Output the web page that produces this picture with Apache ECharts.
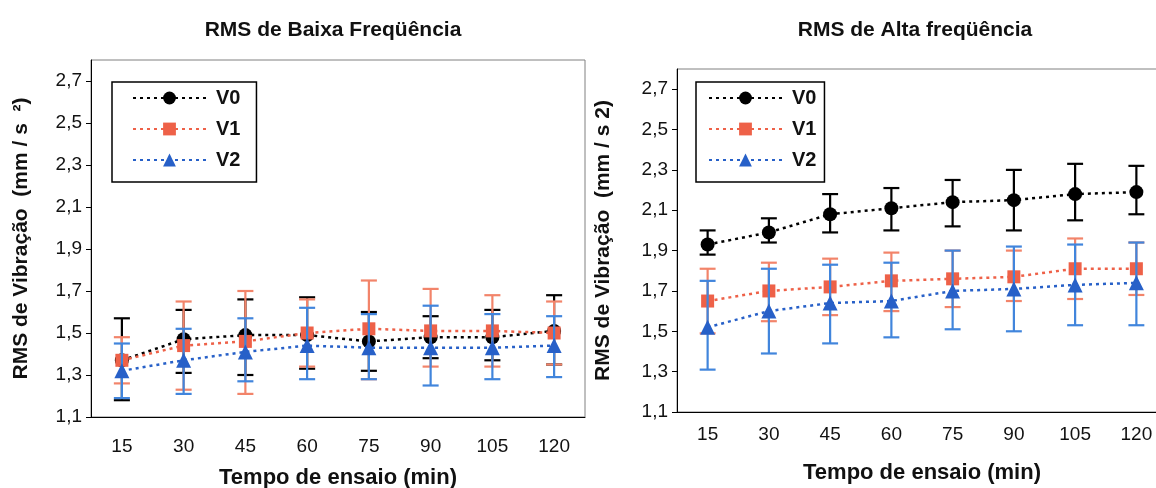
<!DOCTYPE html>
<html lang="pt">

<head>
    <meta charset="utf-8">
    <title>RMS de Vibração</title>
    <script src="https://cdn.jsdelivr.net/npm/echarts@6/dist/echarts.min.js"></script>
    <style>
        html,
        body,
        #chart {
            width: 100%;
            height: 100%;
            margin: 0;
            padding: 0;
            overflow: hidden;
            background-color: #ffffff;
        }
    </style>
</head>

<body>
    <div id="chart" style="width: 1156px;height:488px;"></div>
    <script>
        // tempo de ensaio (min)
        var categories = ['15', '30', '45', '60', '75', '90', '105', '120'];
        var yTicks = [1.1, 1.3, 1.5, 1.7, 1.9, 2.1, 2.3, 2.5, 2.7];

        // RMS de Baixa Freqüência: média, limite inferior, limite superior
        var baixaV0 = [1.37, 1.47, 1.49, 1.49, 1.46, 1.48, 1.48, 1.51];
        var baixaV0Min = [1.18, 1.31, 1.30, 1.33, 1.32, 1.38, 1.37, 1.35];
        var baixaV0Max = [1.57, 1.61, 1.66, 1.67, 1.60, 1.58, 1.61, 1.68];
        var baixaV1 = [1.37, 1.44, 1.46, 1.50, 1.52, 1.51, 1.51, 1.50];
        var baixaV1Min = [1.26, 1.23, 1.21, 1.34, 1.28, 1.34, 1.34, 1.35];
        var baixaV1Max = [1.48, 1.65, 1.70, 1.66, 1.75, 1.71, 1.68, 1.65];
        var baixaV2 = [1.32, 1.37, 1.41, 1.44, 1.43, 1.43, 1.43, 1.44];
        var baixaV2Min = [1.19, 1.21, 1.27, 1.28, 1.28, 1.25, 1.28, 1.29];
        var baixaV2Max = [1.45, 1.52, 1.57, 1.62, 1.59, 1.63, 1.59, 1.58];

        // RMS de Alta freqüência
        var altaV0 = [1.93, 1.99, 2.08, 2.11, 2.14, 2.15, 2.18, 2.19];
        var altaV0Min = [1.88, 1.94, 1.99, 2.00, 2.02, 2.00, 2.05, 2.08];
        var altaV0Max = [2.00, 2.06, 2.18, 2.21, 2.25, 2.30, 2.33, 2.32];
        var altaV1 = [1.65, 1.70, 1.72, 1.75, 1.76, 1.77, 1.81, 1.81];
        var altaV1Min = [1.49, 1.55, 1.58, 1.60, 1.62, 1.65, 1.66, 1.68];
        var altaV1Max = [1.81, 1.84, 1.86, 1.89, 1.90, 1.90, 1.96, 1.94];
        var altaV2 = [1.52, 1.60, 1.64, 1.65, 1.70, 1.71, 1.73, 1.74];
        var altaV2Min = [1.31, 1.39, 1.44, 1.47, 1.51, 1.50, 1.53, 1.53];
        var altaV2Max = [1.75, 1.81, 1.83, 1.84, 1.90, 1.92, 1.93, 1.94];

        var font = 'Liberation Sans, Arial, sans-serif';
        var colors = {
            V0: { line: '#000000', bar: '#000000' },
            V1: { line: '#ee6148', bar: '#f2846a' },
            V2: { line: '#2760c8', bar: '#4185dc' }
        };
        var symbols = { V0: ['circle', 14], V1: ['rect', 13], V2: ['triangle', 15] };

        var myChart = echarts.init(document.getElementById('chart'));

        function fmt(v) {
            return v.toFixed(1).replace('.', ',');
        }

        // barras de erro (desenhadas pelas escalas do eixo)
        function renderErrorBar(params, api) {
            var x = api.value(0);
            var top = api.coord([x, api.value(2)]);
            var bot = api.coord([x, api.value(1)]);
            var half = api.size([1, 0])[0] * 0.13;
            var key = params.seriesName.substr(0, 2);
            var style = { stroke: colors[key].bar, lineWidth: 2.2 };
            return {
                type: 'group',
                children: [
                    { type: 'line', shape: { x1: top[0], y1: top[1], x2: bot[0], y2: bot[1] }, style: style },
                    { type: 'line', shape: { x1: top[0] - half, y1: top[1], x2: top[0] + half, y2: top[1] }, style: style },
                    { type: 'line', shape: { x1: bot[0] - half, y1: bot[1], x2: bot[0] + half, y2: bot[1] }, style: style }
                ]
            };
        }

        function buildSeries(name, idx, mean, lo, hi, z) {
            var bars = [];
            for (var i = 0; i < categories.length; i++) {
                bars.push([i, lo[i], hi[i]]);
            }
            return [
                {
                    name: name + ' erro',
                    type: 'custom',
                    xAxisIndex: idx,
                    yAxisIndex: idx,
                    renderItem: renderErrorBar,
                    data: bars,
                    z: z,
                    silent: true
                },
                {
                    name: name,
                    type: 'line',
                    xAxisIndex: idx,
                    yAxisIndex: idx,
                    data: mean,
                    symbol: symbols[name][0],
                    symbolSize: symbols[name][1],
                    lineStyle: { color: colors[name].line, width: 2.5, type: [3, 4] },
                    itemStyle: { color: colors[name].line },
                    z: z + 1
                }
            ];
        }

        function yAxis(idx, gap) {
            return {
                type: 'value',
                gridIndex: idx,
                min: 1.1,
                max: 2.8,
                name: idx === 0 ? 'RMS de Vibração  (mm / s  ²)' : 'RMS de Vibração  (mm / s 2)',
                nameLocation: 'middle',
                nameGap: gap,
                nameTextStyle: { fontFamily: font, fontWeight: 'bold', fontSize: 21, color: '#111' },
                axisLine: { show: true, lineStyle: { color: '#000', width: 1 } },
                axisTick: { show: true, length: 5, customValues: yTicks, lineStyle: { color: '#000' } },
                axisLabel: {
                    customValues: yTicks,
                    formatter: fmt,
                    margin: 9,
                    fontFamily: font,
                    fontSize: 19,
                    color: '#111'
                },
                splitLine: { show: false }
            };
        }

        function xAxis(idx, margin, gap) {
            return {
                type: 'category',
                gridIndex: idx,
                data: categories,
                boundaryGap: true,
                name: 'Tempo de ensaio (min)',
                nameLocation: 'middle',
                nameGap: gap,
                nameTextStyle: { fontFamily: font, fontWeight: 'bold', fontSize: 22, color: '#111' },
                axisLine: { lineStyle: { color: '#000', width: 1 } },
                axisTick: { length: 5, lineStyle: { color: '#000' } },
                axisLabel: { margin: margin, fontFamily: font, fontSize: 19, color: '#111' }
            };
        }

        function legend(left, padding) {
            return {
                left: left,
                top: 82,
                orient: 'vertical',
                data: ['V0', 'V1', 'V2'],
                itemWidth: 73,
                itemHeight: 16,
                itemGap: 11,
                padding: padding,
                borderColor: '#000',
                borderWidth: 1.5,
                backgroundColor: '#fff',
                selectedMode: false,
                textStyle: { fontFamily: font, fontWeight: 'bold', fontSize: 20, color: '#111', padding: [0, 0, 0, 5] }
            };
        }

        var series = [].concat(
            buildSeries('V0', 0, baixaV0, baixaV0Min, baixaV0Max, 2),
            buildSeries('V1', 0, baixaV1, baixaV1Min, baixaV1Max, 4),
            buildSeries('V2', 0, baixaV2, baixaV2Min, baixaV2Max, 6),
            buildSeries('V0', 1, altaV0, altaV0Min, altaV0Max, 2),
            buildSeries('V1', 1, altaV1, altaV1Min, altaV1Max, 4),
            buildSeries('V2', 1, altaV2, altaV2Min, altaV2Max, 6)
        );

        var option = {
            backgroundColor: '#fff',
            animation: false,
            title: [
                {
                    text: 'RMS de Baixa Freqüência',
                    left: 328,
                    top: 15,
                    textAlign: 'center',
                    textStyle: { fontFamily: font, fontWeight: 'bold', fontSize: 21, color: '#111' }
                },
                {
                    text: 'RMS de Alta freqüência',
                    left: 910,
                    top: 15,
                    textAlign: 'center',
                    textStyle: { fontFamily: font, fontWeight: 'bold', fontSize: 21, color: '#111' }
                }
            ],
            legend: [legend(112, [6, 16, 12, 20]), legend(696, [6, 8, 12, 12])],
            grid: [
                { left: 91, top: 60, width: 494, height: 357, outerBoundsMode: 'none', show: true, borderColor: '#808080', borderWidth: 1 },
                { left: 677, top: 69, width: 490, height: 343, outerBoundsMode: 'none', show: true, borderColor: '#808080', borderWidth: 1 }
            ],
            xAxis: [xAxis(0, 20, 50), xAxis(1, 13, 50)],
            yAxis: [yAxis(0, 59), yAxis(1, 63)],
            series: series
        };
        myChart.setOption(option);
    </script>
</body>

</html>
